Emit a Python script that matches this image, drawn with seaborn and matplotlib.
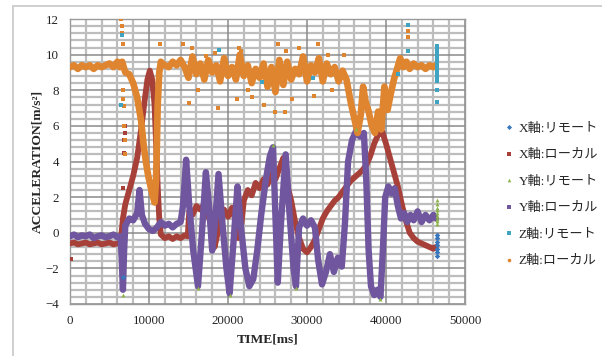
import matplotlib
matplotlib.use('Agg')
import matplotlib.pyplot as plt
from matplotlib.lines import Line2D
import numpy as np
import pandas as pd
import seaborn as sns

# ---- data (time in ms, acceleration in m/s^2) ----

# X軸:ローカル
x_local_t = [0, 500, 1000, 1500, 2000, 2500, 3000, 3500, 4000, 4500, 5000, 5500, 6000, 6400,
             6700, 7000, 7500, 8000, 8500, 9000, 9500, 9800, 10100, 10400, 10700, 10900, 11100,
             11300, 11500, 12000, 12500, 13000, 13500, 14000, 14500, 14900, 15100, 15500, 16000,
             16500, 17000, 17500, 18000, 18300, 18700, 19000, 19500, 20000, 20500, 21000, 21300,
             21700, 22000, 22500, 23000, 23500, 24000, 24500, 25000, 25500, 26000, 26500, 27000,
             27300, 27600, 28000, 28500, 29000, 29500, 30000, 30500, 31000, 31500, 32000, 32500,
             33000, 33500, 34000, 34500, 35000, 35500, 36000, 36500, 37000, 37500, 38000, 38500,
             39000, 39500, 40000, 40500, 41000, 41500, 42000, 42500, 43000, 43500, 44000, 44500,
             45000, 45500, 46000, 46300]
x_local_v = [-0.6, -0.55, -0.65, -0.6, -0.55, -0.65, -0.6, -0.55, -0.65, -0.6, -0.55, -0.65, -0.6, -0.6,
             0.8, 1.6, 2.4, 3.2, 4.2, 5.8, 7.6, 8.6, 9.1, 8.6, 7.2, 5.0, 2.6,
             0.8, -0.1, -0.3, -0.2, -0.35, -0.2, -0.3, -0.15, -0.2, 1.2, 1.0, 1.5,
             1.3, 1.6, 1.0, 0.2, -0.8, 0.0, 1.0, 1.3, 0.9, 1.4, 0.6, -0.3,
             0.5, 1.8, 2.4, 2.1, 2.8, 2.5, 3.0, 2.7, 3.3, 3.0, 3.6, 4.2,
             3.8, 2.5, 1.8, 0.6, -0.3, -0.9, -1.1, -0.8, -0.4, 0.2, 0.8, 1.2,
             1.5, 1.8, 2.0, 2.3, 2.6, 2.9, 3.1, 3.3, 3.5, 3.8, 4.3, 5.0,
             5.5, 5.7, 5.0, 4.2, 3.4, 2.6, 1.6, 0.7, 0.0, -0.3, -0.5, -0.6,
             -0.7, -0.8, -0.9, -0.8]
x_local_dot_t = [150, 6600, 6650, 6750, 6800, 6850, 6900, 6950, 11000, 11200]
x_local_dot_v = [-1.45, -1.9, -1.4, 2.5, 4.5, 5.2, 6.0, 5.6, 4.0, 1.5]

# Y軸:ローカル
y_local_t = [0, 500, 1000, 1500, 2000, 2500, 3000, 3500, 4000, 4500, 5000, 5500, 6000, 6400,
             6550, 6700, 6850, 7000, 7500, 8000, 8500, 8800, 9100, 9500, 10000, 10500, 11000,
             11500, 12000, 12500, 13000, 13500, 14000, 14300, 14700, 15100, 15600, 16200, 16700,
             17200, 17600, 18000, 18400, 18800, 19300, 19800, 20200, 20700, 21200, 21600, 22200,
             22700, 23200, 23700, 24200, 24800, 25300, 25700, 26000, 26300, 26700, 27300, 27800,
             28300, 28600, 29000, 29500, 30000, 30500, 31000, 31400, 31900, 32400, 32900, 33400,
             33900, 34400, 34800, 35200, 35700, 36200, 36700, 37200, 37500, 37800, 38100, 38500,
             38900, 39300, 39600, 39900, 40300, 40700, 41100, 41500, 41900, 42300, 42700, 43100,
             43500, 44000, 44500, 45000, 45500, 46000, 46300]
y_local_v = [-0.2, -0.1, -0.25, -0.15, -0.2, -0.1, -0.3, -0.2, -0.15, -0.25, -0.2, -0.1, -0.25, -0.2,
             -1.5, -3.2, -1.0, 0.4, 0.8, 0.7, 1.1, 2.4, 1.0, 0.5, 0.2, 0.1, 0.3,
             0.6, 0.4, 0.5, 0.3, 0.5, 0.6, 1.5, 4.1, 1.5, -1.0, -3.0, 0.0,
             3.4, 1.5, -1.0, 0.8, 3.3, 0.5, -2.0, -3.4, -0.5, 2.6, 0.5, -2.0,
             -3.0, -2.6, -1.0, 1.0, 3.0, 4.3, 4.8, 1.0, -2.8, 0.5, 4.4, 1.0,
             -2.0, -3.0, 0.3, 0.8, 0.4, 0.7, 0.3, -1.5, -2.9, -2.2, -1.2, -2.2,
             -1.4, -1.9, 0.5, 4.0, 5.2, 5.7, 5.4, 5.6, 3.0, -1.0, -3.0, -3.5,
             -3.2, -3.6, -1.0, 2.0, 2.6, 2.2, 2.5, 1.5, 0.8, 1.1, 0.6, 1.0,
             0.7, 1.2, 0.6, 1.0, 0.7, 1.0, 0.8]

# Z軸:ローカル
z_local_t = [0, 500, 1000, 1500, 2000, 2500, 3000, 3500, 4000, 4500, 5000, 5500, 6000, 6300,
             6600, 7000, 7500, 8000, 8500, 9000, 9300, 9600, 9900, 10300, 10700, 10900, 11000,
             11100, 11300, 11500, 11700, 12000, 12500, 13000, 13500, 14000, 14500, 15000, 15500,
             16000, 16500, 17000, 17500, 18000, 18500, 19000, 19500, 20000, 20500, 21000, 21500,
             22000, 22500, 23000, 23500, 24000, 24500, 25000, 25500, 26000, 26500, 27000, 27500,
             28000, 28500, 29000, 29500, 30000, 30500, 31000, 31500, 32000, 32500, 33000, 33500,
             34000, 34500, 35000, 35500, 36000, 36400, 36800, 37100, 37400, 37800, 38200, 38600,
             39000, 39400, 39800, 40200, 40600, 41000, 41400, 41800, 42200, 42600, 43000, 43500,
             44000, 44500, 45000, 45500, 46000, 46300]
z_local_v = [9.3, 9.4, 9.2, 9.4, 9.3, 9.4, 9.2, 9.4, 9.3, 9.4, 9.5, 9.3, 9.6, 9.3,
             9.6, 9.0, 8.9, 8.4, 7.6, 6.3, 5.0, 4.0, 3.2, 2.4, 1.7, 3.0, 5.0,
             7.2, 9.0, 9.6, 9.5, 9.4, 9.3, 9.6, 9.4, 9.7, 9.3, 8.7, 9.9,
             8.9, 9.5, 8.6, 9.7, 9.0, 9.4, 8.5, 9.8, 8.8, 9.3, 8.6, 10.0,
             8.8, 9.4, 8.4, 9.2, 8.7, 9.5, 8.2, 9.3, 7.9, 9.7, 8.3, 9.6,
             8.6, 9.2, 8.9, 9.9, 8.5, 9.4, 9.0, 9.8, 8.5, 9.5, 8.9, 9.3,
             8.5, 9.1, 8.6, 7.4, 6.4, 5.6, 6.6, 8.2, 7.4, 6.8, 6.0, 5.6,
             6.8, 5.8, 8.2, 6.9, 7.8, 8.6, 9.2, 9.8, 9.3, 9.6, 9.2, 9.5,
             9.3, 9.4, 9.2, 9.4, 9.3, 9.4]
z_local_dot_t = [6500, 6550, 6600, 6650, 6700, 6750, 6800, 6850, 6900, 6950, 11300, 11400,
                 14300, 15000, 15400, 16200, 17200, 18400, 18700, 21200, 21400, 21600, 22500,
                 23000, 24600, 26000, 26300, 27200, 27300, 28100, 29000, 30900, 31400, 32700,
                 33200, 34700, 42800, 42800]
z_local_dot_v = [12.0, 11.6, 11.2, 10.6, 8.0, 7.5, 7.1, 6.0, 5.2, 4.4, 8.1, 10.6,
                 10.6, 7.3, 10.4, 8.0, 9.9, 10.1, 7.0, 7.5, 10.4, 10.2, 8.0,
                 7.6, 7.2, 6.8, 10.6, 6.8, 10.2, 7.5, 10.4, 7.7, 10.6, 10.0,
                 8.0, 10.0, 11.3, 11.0]

# remote series (only the points that show through)
x_remote_t = [6650, 46400, 46400, 46400, 46400, 46400, 46400, 46400]
x_remote_v = [-2.5, -0.1, -0.3, -0.5, -0.7, -0.9, -1.1, -1.3]

y_remote_t = [6700, 16200, 20200, 25700, 28600, 36200, 39300,
              46400, 46400, 46400, 46400, 46400, 46400, 46400, 46400, 46400]
y_remote_v = [-3.5, -3.1, -3.5, 4.9, -3.1, 5.8, -3.7,
              1.85, 1.6, 1.4, 1.25, 1.1, 0.95, 0.8, 0.65, 0.5]

z_remote_t = [6550, 6500, 18850, 24300, 30800, 41500, 42800, 42800,
              46400, 46400, 46400, 46400, 46400, 46400, 46400, 46400, 46400, 46400, 46400, 46400, 46400]
z_remote_v = [11.1, 7.2, 10.25, 8.45, 8.7, 8.9, 11.65, 10.2,
              10.5, 10.3, 10.1, 9.9, 9.7, 9.5, 9.3, 9.1, 8.9, 8.7, 8.5, 8.0, 7.35]

labels = ['X軸:リモート', 'X軸:ローカル', 'Y軸:リモート', 'Y軸:ローカル', 'Z軸:リモート', 'Z軸:ローカル']
colors = ['#3877be', '#a8403a', '#8db34a', '#70569e', '#3fa3c2', '#e0852f']
markers = ['D', 's', '^', 's', 's', 'o']

# ---- style ----
sns.set_style('white')
serif_jp = ['Liberation Serif', 'Noto Sans CJK JP']
plt.rcParams['font.family'] = serif_jp

fig = plt.figure(figsize=(6.02, 3.56), dpi=100)
ax = fig.add_axes([70 / 602, 1 - 304 / 356, 395 / 602, 285 / 356])

# Excel-like gridlines: light minor lines, darker major lines (drawn on top of the bg)
minor_x = [gx for gx in range(0, 50001, 2000) if gx % 10000]
minor_y = [gy for gy in np.arange(-4, 12.01, 0.4) if abs(gy / 2 - round(gy / 2)) > 1e-6]
ax.vlines(minor_x, -4, 12, colors='#bdbdbd', lw=1.6, zorder=1.1)
ax.hlines(minor_y, 0, 50000, colors='#bdbdbd', lw=1.6, zorder=1.1)
ax.vlines(range(0, 50001, 10000), -4, 12, colors='#8a8a8a', lw=1.1, zorder=1.2)
ax.hlines(range(-4, 13, 2), 0, 50000, colors='#8a8a8a', lw=1.1, zorder=1.2)

local = [(x_local_t, x_local_v, x_local_dot_t, x_local_dot_v, colors[1], 4.2),
         (y_local_t, y_local_v, [], [], colors[3], 4.6),
         (z_local_t, z_local_v, z_local_dot_t, z_local_dot_v, colors[5], 4.8)]
for t, v, dt, dv, c, w in local:
    df = pd.DataFrame({'time': t, 'accel': v})
    sns.lineplot(data=df, x='time', y='accel', sort=False, estimator=None,
                 color=c, lw=w, ax=ax, legend=False, zorder=3)
    if dt:
        sns.scatterplot(x=dt, y=dv, color=c, marker='s', s=10, linewidth=0, ax=ax,
                        legend=False, zorder=3)

remote = [(x_remote_t, x_remote_v, colors[0], 'D'),
          (y_remote_t, y_remote_v, colors[2], '^'),
          (z_remote_t, z_remote_v, colors[4], 's')]
for t, v, c, m in remote:
    sns.scatterplot(x=t, y=v, color=c, marker=m, s=8, linewidth=0, ax=ax, legend=False, zorder=5)

ax.set_xlim(0, 50000)
ax.set_ylim(-4, 12)
ax.set_xticks(range(0, 50001, 10000))
ax.set_yticks(range(-4, 13, 2))
ax.tick_params(which='both', length=0, labelsize=9.3, colors='#222222')
ax.tick_params(axis='y', pad=8)
ax.tick_params(axis='x', pad=8)
for s in ax.spines.values():
    s.set_color('#9a9a9a')
    s.set_linewidth(1.0)

ax.set_xlabel('TIME[ms]', fontsize=9.7, fontweight='bold')
ax.set_ylabel('ACCELERATION[m/s²]', fontsize=9.7, fontweight='bold')
ax.xaxis.set_label_coords(0.5, -0.102)
ax.yaxis.set_label_coords(-0.068, 0.5)

handles = [Line2D([], [], ls='none', marker=m, color=c, markersize=2.6, markeredgewidth=0)
           for m, c in zip(markers, colors)]
fig.legend(handles, labels, loc='center left', bbox_to_anchor=(498 / 602, 1 - 195 / 356),
           frameon=False, prop={'family': serif_jp, 'size': 9.5},
           handlelength=0.7, handletextpad=0.35, labelspacing=1.08, borderpad=0)

# chart area border
fig.add_artist(Line2D([13 / 602, 13 / 602], [0, 1 - 6 / 356], transform=fig.transFigure,
                      color='#cfcfcf', lw=1.4))
fig.add_artist(Line2D([13 / 602, 1], [1 - 6 / 356, 1 - 6 / 356], transform=fig.transFigure,
                      color='#cfcfcf', lw=1.4))

fig.savefig('out.png', dpi=100)
